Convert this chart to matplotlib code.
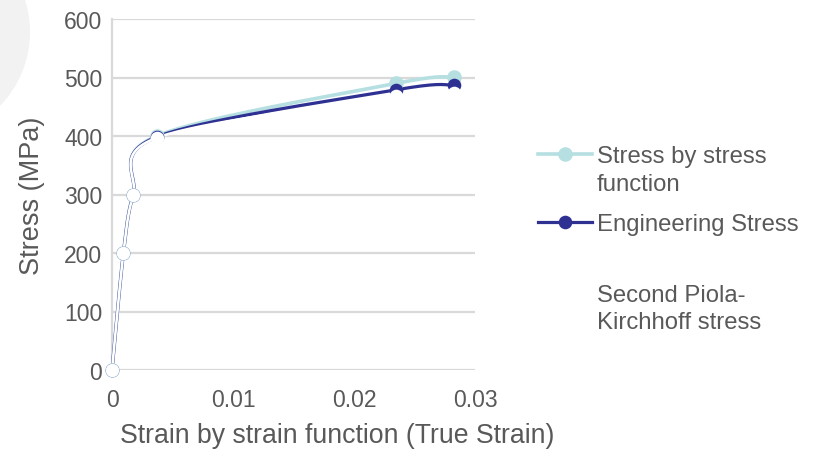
import numpy as np
import matplotlib
matplotlib.use('Agg')
import matplotlib.pyplot as plt
from matplotlib.lines import Line2D
from matplotlib.patches import Circle

# strain (true strain) and the three stress measures, MPa
strain = [0.0, 0.00094, 0.00175, 0.0037, 0.0235, 0.0283]
stress_true = [0.0, 200.0, 300.0, 400.0, 490.0, 501.0]
stress_eng = [0.0, 199.8, 299.5, 398.5, 479.0, 487.0]
stress_pk2 = [0.0, 199.6, 299.0, 397.0, 468.0, 474.0]

series_names = [['Stress by stress', 'function'], ['Engineering Stress'],
                ['Second Piola-', 'Kirchhoff stress']]
xticks = [0, 0.01, 0.02, 0.03]
xtick_labels = ['0', '0.01', '0.02', '0.03']
yticks = [0, 100, 200, 300, 400, 500, 600]

CYAN = '#b6dfe2'
NAVY = '#2e3192'
GREY = '#595959'
GRID = '#d9d9d9'

plt.rcParams['font.family'] = ['Liberation Sans', 'DejaVu Sans']


def smooth(xs, ys, sx, sy, n=40):
    '''Bezier smoothing through the points, done in pixel-like units'''
    p = np.column_stack([np.asarray(xs) * sx, np.asarray(ys) * sy])
    pts = np.vstack([p[0], p, p[-1]])
    out = []
    t = np.linspace(0, 1, n)[:, None]
    for i in range(1, len(pts) - 2):
        p0, p3 = pts[i], pts[i + 1]
        p1 = p0 + (pts[i + 1] - pts[i - 1]) / 6
        p2 = p3 - (pts[i + 2] - pts[i]) / 6
        seg = ((1 - t)**3 * p0 + 3 * (1 - t)**2 * t * p1
               + 3 * (1 - t) * t**2 * p2 + t**3 * p3)
        out.append(seg if i == 1 else seg[1:])
    out = np.vstack(out)
    return out[:, 0] / sx, out[:, 1] / sy


W, H = 815, 452
fig = plt.figure(figsize=(W / 100, H / 100), dpi=100)

# soft grey disc in the top-left corner
fig.patches.append(Circle((-0.76, (H - 33) / 100), 1.06, transform=fig.dpi_scale_trans,
                          facecolor='#f2f2f2', edgecolor='none', zorder=0))

left, right, top, bottom = 112, 475, 20, 371
ax = fig.add_axes([left / W, (H - bottom) / H, (right - left) / W, (bottom - top) / H])
ax.set_facecolor('none')
ax.set_xlim(0, 0.03)
ax.set_ylim(0, 600)

# pixels per data unit, used for the smoothing
sx = (right - left) / 0.03
sy = (bottom - top) / 600.0

styles = [(stress_true, CYAN, 2.6, 10.5),
          (stress_eng, NAVY, 2.3, 9.8),
          (stress_pk2, 'white', 1.9, 9.8)]
for ys, col, lw, ms in styles:
    cx, cy = smooth(strain, ys, sx, sy)
    ax.plot(cx, cy, color=col, lw=lw, solid_capstyle='round', zorder=3, clip_on=False)
    ax.plot(strain, ys, 'o', color=col, markersize=ms, markeredgewidth=0,
            zorder=4, clip_on=False)

ax.set_xticks(xticks)
ax.set_xticklabels(xtick_labels)
ax.set_yticks(yticks)
ax.yaxis.grid(True, color=GRID, lw=1.6)
ax.xaxis.grid(False)
ax.set_axisbelow(True)
for s in ['top', 'right', 'bottom']:
    ax.spines[s].set_visible(False)
ax.spines['left'].set_color(GRID)
ax.spines['left'].set_linewidth(1.6)
ax.tick_params(axis='both', length=0, labelsize=16.5, labelcolor=GREY)
ax.tick_params(axis='x', pad=13)
ax.tick_params(axis='y', pad=7)

ax.set_xlabel('Strain by strain function (True Strain)', fontsize=19.2, color=GREY,
              labelpad=8, x=(337 - left) / (right - left))
ax.set_ylabel('Stress (MPa)', fontsize=19.5, color=GREY, labelpad=14)

# legend at the right of the plot
entries = [(CYAN, 155, 2.6, 10.5), (NAVY, 223, 2.3, 9.8), ('white', 293, 1.9, 9.8)]
for (col, yp, lw, ms), lines in zip(entries, series_names):
    yf = (H - yp) / H
    fig.add_artist(Line2D([538 / W, 592 / W], [yf, yf], color=col, lw=lw,
                          transform=fig.transFigure))
    fig.add_artist(Line2D([565 / W], [yf], marker='o', color=col, markersize=ms,
                          markeredgewidth=0, transform=fig.transFigure))
    for k, line in enumerate(lines):
        base = yp + 28 * k + 8.5
        fig.text(597 / W, (H - base) / H, line, fontsize=17.2, color=GREY,
                 ha='left', va='baseline')

fig.savefig('out.png', dpi=100)
